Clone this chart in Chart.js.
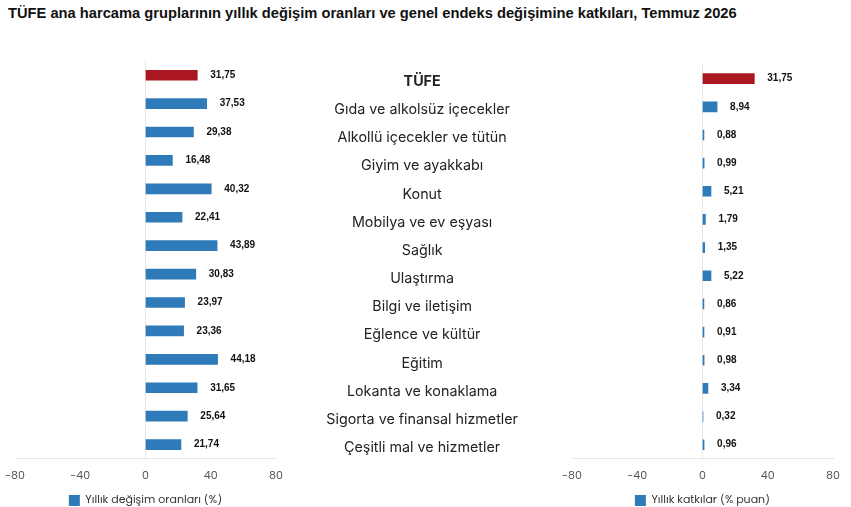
<!DOCTYPE html>
<html>
<head>
<meta charset="utf-8">
<script src="https://cdn.jsdelivr.net/npm/chart.js@4.4.1/dist/chart.umd.min.js"></script>
<style>
  html, body { margin:0; padding:0; background:#fff; }
  body { width:851px; height:507px; position:relative; overflow:hidden; }
  .title { position:absolute; left:8px; top:5px; font:bold 14.7px "Liberation Sans", Arial, sans-serif; color:#111; white-space:nowrap; }
  .wrap { position:absolute; top:56px; height:460px; }
</style>
</head>
<body>
<div class="title">TÜFE ana harcama gruplarının yıllık değişim oranları ve genel endeks değişimine katkıları, Temmuz 2026</div>
<div class="wrap" style="left:0;width:290px"><canvas id="leftChart"></canvas></div>
<div class="wrap" style="left:300px;width:551px"><canvas id="rightChart"></canvas></div>
<script>
const categories = ['TÜFE', 'Gıda ve alkolsüz içecekler', 'Alkollü içecekler ve tütün', 'Giyim ve ayakkabı', 'Konut',
  'Mobilya ve ev eşyası', 'Sağlık', 'Ulaştırma', 'Bilgi ve iletişim', 'Eğlence ve kültür', 'Eğitim',
  'Lokanta ve konaklama', 'Sigorta ve finansal hizmetler', 'Çeşitli mal ve hizmetler'];
const annualChange = [31.75, 37.53, 29.38, 16.48, 40.32, 22.41, 43.89, 30.83, 23.97, 23.36, 44.18, 31.65, 25.64, 21.74];
const contribution = [31.75, 8.94, 0.88, 0.99, 5.21, 1.79, 1.35, 5.22, 0.86, 0.91, 0.98, 3.34, 0.32, 0.96];
const xTicks = [-80, -40, 0, 40, 80];

const BLUE = '#2f7bb9', RED = '#aa1720';
const barColors = categories.map((c, i) => i === 0 ? RED : BLUE);
const tickFont = { family: 'Poppins, "Open Sans", sans-serif', size: 11 };

// value labels to the right of each bar
const valueLabels = {
  id: 'valueLabels',
  afterDatasetsDraw(chart) {
    const ctx = chart.ctx;
    const ds = chart.data.datasets[0];
    ctx.save();
    ctx.font = 'bold 10px "Liberation Sans", Arial, sans-serif';
    ctx.fillStyle = '#111';
    ctx.textAlign = 'left';
    ctx.textBaseline = 'middle';
    chart.getDatasetMeta(0).data.forEach((bar, i) => {
      ctx.fillText(ds.data[i].toFixed(2).replace('.', ','), bar.x + 13, bar.y);
    });
    ctx.restore();
  }
};

function xScale() {
  return {
    min: -80, max: 80,
    afterBuildTicks: s => { s.ticks = xTicks.map(v => ({ value: v })); },
    // let layout padding alone decide where the plot starts and ends
    afterFit: s => { s.paddingLeft = 0; s.paddingRight = 0; },
    grid: { drawTicks: false, color: c => c.tick && c.tick.value === 0 ? '#e6e6e6' : 'rgba(0,0,0,0)' },
    border: { color: '#e6e6e6' },
    ticks: { font: tickFont, color: '#555', padding: 11 }
  };
}

function legendOpts() {
  return {
    position: 'bottom',
    fullSize: false,
    labels: {
      boxWidth: 11, boxHeight: 11, padding: 1, font: tickFont, color: '#333',
      generateLabels: chart => chart.data.datasets.map((ds, i) => ({
        text: ds.label, fillStyle: BLUE, strokeStyle: BLUE, lineWidth: 0, fontColor: '#333', datasetIndex: i
      }))
    }
  };
}

new Chart(document.getElementById('leftChart'), {
  type: 'bar',
  data: { labels: categories, datasets: [{ label: 'Yıllık değişim oranları (%)', data: annualChange, backgroundColor: barColors, barThickness: 10 }] },
  options: {
    indexAxis: 'y', responsive: true, maintainAspectRatio: false, animation: false,
    layout: { padding: { left: 15, right: 14, top: 5, bottom: 0 } },
    plugins: { legend: legendOpts(), tooltip: { enabled: false } },
    scales: { x: xScale(), y: { display: false } }
  },
  plugins: [valueLabels]
});

new Chart(document.getElementById('rightChart'), {
  type: 'bar',
  data: { labels: categories, datasets: [{ label: 'Yıllık katkılar (% puan)', data: contribution, backgroundColor: barColors, barThickness: 10 }] },
  options: {
    indexAxis: 'y', responsive: true, maintainAspectRatio: false, animation: false,
    layout: { padding: { left: 0, right: 18, top: 5, bottom: 0 } },
    plugins: { legend: legendOpts(), tooltip: { enabled: false } },
    scales: {
      x: xScale(),
      y: {
        afterFit: s => { s.width = 272; },
        grid: { display: true, drawOnChartArea: false, drawTicks: true, tickLength: 54, color: 'rgba(0,0,0,0)' },
        border: { display: false },
        ticks: {
          crossAlign: 'center', padding: 0, labelOffset: 3, color: '#222',
          font: c => ({ family: 'Inter, sans-serif', size: 14.3, weight: c.index === 0 ? 'bold' : 'normal' })
        }
      }
    }
  },
  plugins: [valueLabels]
});
</script>
</body>
</html>
